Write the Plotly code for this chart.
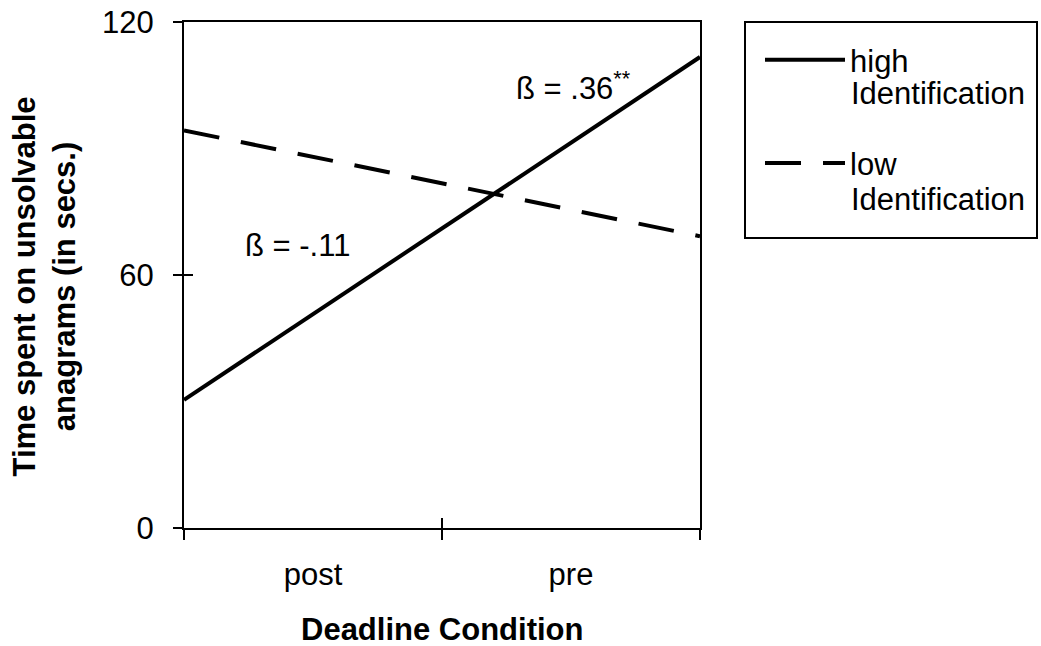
import plotly.graph_objects as go

# ---- data ----
categories = ["post", "pre"]            # Deadline Condition
condition_code = [0, 1]                 # dummy coding of deadline condition
high_identification = [30.4, 111.7]     # Time spent on unsolvable anagrams (secs.)
low_identification = [94.3, 69.2]
group_labels = ["high", "low"]
group_suffix = "Identification"
y_ticks = [0, 60, 120]
label_pos = [0.25, 0.75]
boundary_ticks = [0, 0.5, 1]
slope_labels = ["ß = .36<sup>**</sup>", "ß = -.11"]
x_title = "<b>Deadline Condition</b>"
y_title = "<b>Time spent on unsolvable<br>anagrams (in secs.)</b>"

FONT = "Arial, 'Liberation Sans', sans-serif"
FS = 31

fig = go.Figure()
fig.add_trace(go.Scatter(
    x=condition_code, y=high_identification, mode="lines",
    name=group_labels[0], legendgroup="high",
    line=dict(color="black", width=4),
))
fig.add_trace(go.Scatter(
    x=condition_code, y=low_identification, mode="lines",
    name=group_labels[1], legendgroup="low",
    line=dict(color="black", width=4, dash="36px,22px"),
))
# invisible helper trace to activate the overlay axes (inside tick marks)
fig.add_trace(go.Scatter(
    x=condition_code, y=high_identification, xaxis="x2", yaxis="y2",
    mode="lines", line=dict(width=0), showlegend=False, hoverinfo="skip",
    opacity=0,
))

fig.update_layout(
    width=1041, height=646,
    margin=dict(l=184, r=341, t=22, b=118, autoexpand=False),
    paper_bgcolor="white", plot_bgcolor="white",
    font=dict(family=FONT, color="black", size=FS),
    xaxis=dict(
        range=[0, 1], tickvals=label_pos, ticktext=categories,
        ticks="", showgrid=False, zeroline=False, automargin=False,
        showline=True, linecolor="black", linewidth=2, mirror=True,
        tickfont=dict(size=FS), ticklabelstandoff=18,
        minor=dict(tickvals=boundary_ticks, ticks="outside", ticklen=10,
                   tickwidth=2, tickcolor="black", showgrid=False),
    ),
    yaxis=dict(
        range=[0, 120], tickvals=y_ticks, ticks="outside", ticklen=9,
        tickwidth=2, tickcolor="black", showgrid=False, zeroline=False,
        showline=True, linecolor="black", linewidth=2, mirror=True,
        tickfont=dict(size=FS), ticklabelstandoff=13, automargin=False,
    ),
    xaxis2=dict(
        overlaying="x", anchor="y", side="bottom", range=[0, 1],
        tickvals=boundary_ticks, ticks="inside", ticklen=10, tickwidth=2,
        tickcolor="black", showticklabels=False, showgrid=False,
        zeroline=False, showline=False, automargin=False,
    ),
    yaxis2=dict(
        overlaying="y", anchor="x", side="left", range=[0, 120],
        tickvals=y_ticks, ticks="inside", ticklen=9, tickwidth=2,
        tickcolor="black", showticklabels=False, showgrid=False,
        zeroline=False, showline=False, automargin=False,
    ),
    legend=dict(
        x=(760 - 184) / 516, y=(528 - 33) / 506, xanchor="left", yanchor="top",
        bgcolor="rgba(0,0,0,0)", borderwidth=0,
        font=dict(size=FS), itemwidth=80, valign="middle",
        tracegroupgap=60, itemclick=False, itemdoubleclick=False,
    ),
    showlegend=True,
)

# legend frame
fig.add_shape(type="rect", xref="paper", yref="paper",
              x0=(745 - 184) / 516, x1=(1037 - 184) / 516,
              y0=(528 - 238) / 506, y1=1.0,
              line=dict(color="black", width=2), fillcolor="rgba(0,0,0,0)")

# second line of each legend entry
for cy in (94, 199):
    fig.add_annotation(xref="paper", yref="paper",
                       x=(849 - 184) / 516, y=(528 - cy) / 506,
                       text=group_suffix, showarrow=False,
                       xanchor="left", yanchor="middle", font=dict(size=FS))

# axis titles
fig.add_annotation(xref="paper", yref="paper", x=0.5, y=(528 - 629) / 506,
                   text=x_title, showarrow=False, xanchor="center",
                   yanchor="middle", font=dict(size=FS))
fig.add_annotation(xref="paper", yref="paper", x=(44 - 184) / 516,
                   y=(528 - 286.5) / 506, text=y_title, textangle=-90,
                   showarrow=False, xanchor="center", yanchor="middle",
                   font=dict(size=FS))

# slope labels
fig.add_annotation(x=0.6386, y=104.8, xref="x", yref="y", text=slope_labels[0],
                   showarrow=False, xanchor="left", yanchor="middle",
                   font=dict(size=FS))
fig.add_annotation(x=0.1134, y=67.1, xref="x", yref="y", text=slope_labels[1],
                   showarrow=False, xanchor="left", yanchor="middle",
                   font=dict(size=FS))

fig.write_html("out.html")
